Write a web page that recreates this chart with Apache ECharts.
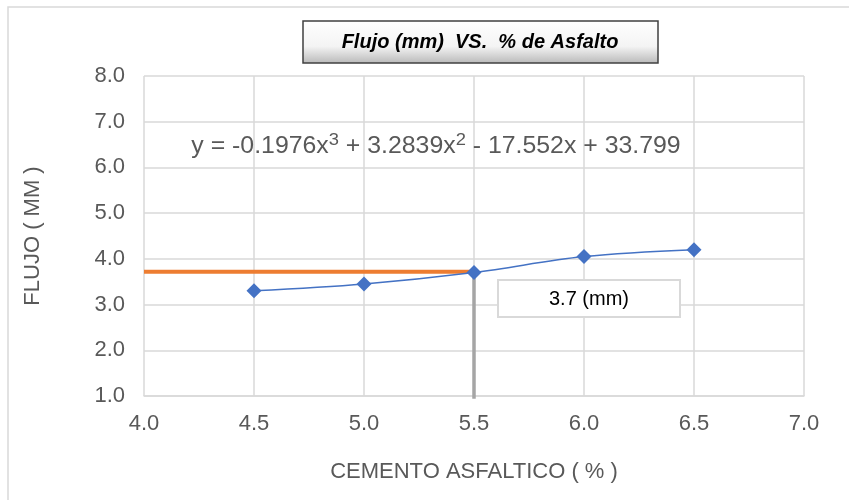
<!DOCTYPE html>
<html><head><meta charset="utf-8">
<script src="https://cdn.jsdelivr.net/npm/echarts@6/dist/echarts.min.js"></script>
<style>html,body{margin:0;padding:0;background:#fff}#c{width:849px;height:500px}</style>
</head><body><div id="c"></div>
<script>
const asphalt = [4.5, 5.0, 5.5, 6.0, 6.5];
const flow = [3.3, 3.45, 3.7, 4.05, 4.2];
const orangeLine = [[4.0, 3.72], [5.5, 3.72]];
const grayLine = [[5.5, 0.94], [5.5, 3.7]];
const titleText = 'Flujo (mm)  VS.  % de Asfalto';
const equationText = '{b|y = -0.1976x}{s|3}{b| + 3.2839x}{s|2}{b| - 17.552x + 33.799}';
const resultText = '3.7 (mm)';
const xName = 'CEMENTO ASFALTICO ( % )';
const yName = 'FLUJO ( MM )';

const chart = echarts.init(document.getElementById('c'), null, {renderer: 'canvas'});
const font = 'Liberation Sans, Arial, sans-serif';
chart.setOption({
  animation: false,
  backgroundColor: '#fff',
  grid: {left: 144, right: 45, top: 76, bottom: 104},
  xAxis: {
    type: 'value', min: 4, max: 7, interval: 0.5,
    name: xName, nameLocation: 'middle', nameGap: 65,
    nameTextStyle: {color: '#595959', fontSize: 22, fontFamily: font},
    axisLine: {show: true, lineStyle: {color: '#d9d9d9', width: 1.5}},
    axisTick: {show: false},
    axisLabel: {color: '#595959', fontSize: 22, fontFamily: font, margin: 17, formatter: v => v.toFixed(1)},
    splitLine: {show: true, lineStyle: {color: '#d9d9d9', width: 1.5}}
  },
  yAxis: {
    type: 'value', min: 1, max: 8, interval: 1,
    name: yName, nameLocation: 'middle', nameGap: 100, nameRotate: 90,
    nameTextStyle: {color: '#595959', fontSize: 22, fontFamily: font},
    axisLine: {show: false},
    axisTick: {show: false},
    axisLabel: {color: '#595959', fontSize: 22, fontFamily: font, margin: 19, formatter: v => v.toFixed(1)},
    splitLine: {show: true, lineStyle: {color: '#d9d9d9', width: 1.5}}
  },
  series: [
    {type: 'line', data: orangeLine, symbol: 'none', lineStyle: {color: '#ed7d31', width: 4}, z: 3},
    {type: 'line', data: grayLine, symbol: 'none', clip: false, lineStyle: {color: '#a5a5a5', width: 3.5}, z: 3},
    {type: 'line', data: asphalt.map((x, i) => [x, flow[i]]), smooth: 0.35,
     symbol: 'diamond', symbolSize: 15, itemStyle: {color: '#4472c4'},
     lineStyle: {color: '#4472c4', width: 1.5}, z: 5}
  ],
  graphic: [
    {type: 'rect', shape: {x: 8, y: 7, width: 900, height: 600}, style: {fill: 'none', stroke: '#d9d9d9', lineWidth: 1.5}, z: 0, silent: true},
    {type: 'rect', shape: {x: 303, y: 21, width: 355, height: 42},
     style: {fill: new echarts.graphic.LinearGradient(0, 0, 0, 1, [
       {offset: 0, color: '#ffffff'}, {offset: 0.6, color: '#f4f4f4'}, {offset: 1, color: '#b8b8b8'}]),
       stroke: '#404040', lineWidth: 1.5}, z: 10},
    {type: 'text', x: 480, y: 42, z: 11,
     style: {text: titleText, fill: '#000', font: 'italic bold 20px Liberation Sans, Arial, sans-serif', align: 'center', verticalAlign: 'middle'}},
    {type: 'text', x: 436, y: 145, scaleX: 1.08, z: 11,
     style: {text: equationText, fill: '#595959', align: 'center', verticalAlign: 'middle',
       rich: {
         b: {fontSize: 23, fontFamily: font, fill: '#595959', lineHeight: 27, verticalAlign: 'bottom'},
         s: {fontSize: 17, fontFamily: font, fill: '#595959', lineHeight: 27, verticalAlign: 'top'}
       }}},
    {type: 'rect', shape: {x: 498, y: 280, width: 182, height: 37}, style: {fill: '#fff', stroke: '#d9d9d9', lineWidth: 2}, z: 10},
    {type: 'text', x: 589, y: 299, z: 11,
     style: {text: resultText, fill: '#000', font: '20px Liberation Sans, Arial, sans-serif', align: 'center', verticalAlign: 'middle'}}
  ]
});
</script></body></html>
